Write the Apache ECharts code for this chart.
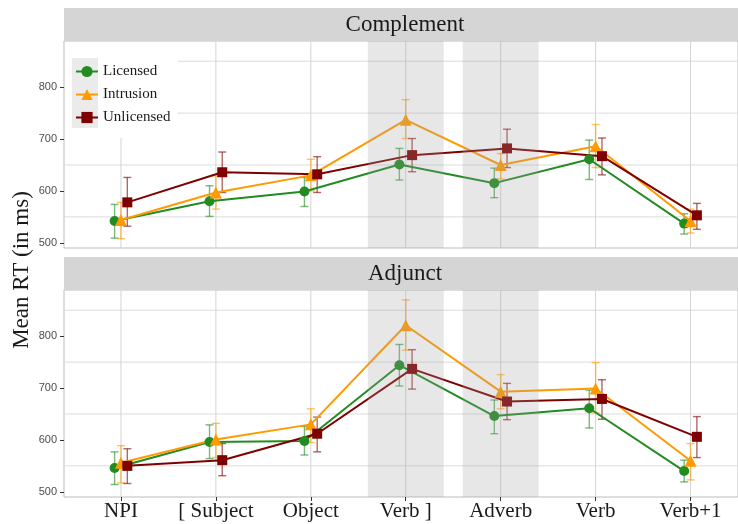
<!DOCTYPE html>
<html><head><meta charset="utf-8">
<script src="https://cdn.jsdelivr.net/npm/echarts@6/dist/echarts.min.js"></script>
<style>html,body{margin:0;padding:0;background:#fff}#c{width:738px;height:524px}</style>
</head><body><div id="c"></div>
<script>
const categories = ['NPI', '[ Subject', 'Object', 'Verb ]', 'Adverb', 'Verb', 'Verb+1'];
const conditions = ['Licensed', 'Intrusion', 'Unlicensed'];
const panels = ['Complement', 'Adjunct'];
const shadedCategories = ['Verb ]', 'Adverb'];
const yTicks = [500, 600, 700, 800];
const yGrid = [550, 650, 750, 850];

// Complement panel
const compLicensed     = [542, 580, 599, 651, 615, 661, 537];
const compLicensedLo   = [509, 551, 570, 621, 587, 622, 517];
const compLicensedHi   = [574, 610, 626, 682, 644, 698, 556];
const compIntrusion    = [544, 597, 630, 737, 650, 686, 542];
const compIntrusionLo  = [508, 565, 600, 701, 623, 645, 519];
const compIntrusionHi  = [578, 629, 661, 776, 672, 728, 565];
const compUnlicensed   = [578, 636, 632, 669, 682, 667, 553];
const compUnlicensedLo = [532, 597, 597, 637, 645, 631, 526];
const compUnlicensedHi = [626, 675, 666, 701, 719, 702, 576];

// Adjunct panel
const adjLicensed     = [546, 596, 598, 744, 646, 661, 540];
const adjLicensedLo   = [514, 564, 571, 704, 612, 623, 519];
const adjLicensedHi   = [577, 629, 626, 784, 677, 696, 561];
const adjIntrusion    = [556, 601, 630, 821, 693, 699, 560];
const adjIntrusionLo  = [517, 566, 595, 773, 660, 652, 523];
const adjIntrusionHi  = [589, 632, 660, 870, 726, 749, 593];
const adjUnlicensed   = [550, 561, 612, 737, 674, 679, 606];
const adjUnlicensedLo = [516, 531, 577, 698, 639, 640, 566];
const adjUnlicensedHi = [583, 593, 644, 774, 709, 716, 645];

const panelData = [
  [[compLicensed, compLicensedLo, compLicensedHi], [compIntrusion, compIntrusionLo, compIntrusionHi], [compUnlicensed, compUnlicensedLo, compUnlicensedHi]],
  [[adjLicensed, adjLicensedLo, adjLicensedHi], [adjIntrusion, adjIntrusionLo, adjIntrusionHi], [adjUnlicensed, adjUnlicensedLo, adjUnlicensedHi]]
];

const colors = ['#228B22', '#FF9A00', '#7F0000'];
const symbols = ['circle', 'triangle', 'rect'];
const symbolSizes = [10, 12, 10];
const dodge = [-0.067, 0, 0.067];
const SERIF = '"Liberation Serif", "DejaVu Serif", serif';
const SANS = '"Liberation Sans", Arial, sans-serif';

const gridTops = [41, 290];
const gridH = 207;

const grids = gridTops.map(t => ({left: 64, right: 0, top: t, height: gridH, show: true, borderColor: '#bdbdbd', borderWidth: 1, backgroundColor: '#fff'}));

const xAxes = gridTops.map((t, i) => ({
  type: 'value', gridIndex: i, min: -0.6, max: 6.5, position: 'bottom',
  axisLine: {show: false, onZero: false}, splitLine: {show: false},
  axisTick: {show: i === 1, customValues: categories.map((c, k) => k), length: 4, lineStyle: {color: '#333'}},
  axisLabel: {show: i === 1, customValues: categories.map((c, k) => k), formatter: v => categories[Math.round(v)] || '',
    fontFamily: SERIF, fontSize: 21, color: '#1a1a1a', margin: 4}
}));

const yAxes = gridTops.map((t, i) => ({
  type: 'value', gridIndex: i, min: 490, max: 889, position: 'left',
  axisLine: {show: false, onZero: false}, splitLine: {show: false},
  axisTick: {show: true, customValues: yTicks, length: 4, lineStyle: {color: '#333'}},
  axisLabel: {customValues: yTicks, fontFamily: SANS, fontSize: 11, color: '#4d4d4d', margin: 7}
}));

const series = [];
panels.forEach((p, gi) => {
  // horizontal grid lines
  series.push({
    type: 'custom', xAxisIndex: gi, yAxisIndex: gi, z: 1, silent: true,
    data: yGrid.map(v => [0, v]),
    renderItem: (params, api) => {
      const cs = params.coordSys;
      const y = api.coord([0, api.value(1)])[1];
      return {type: 'line', shape: {x1: cs.x, y1: y, x2: cs.x + cs.width, y2: y}, style: {stroke: '#dcdcdc', lineWidth: 1}};
    }
  });
  // vertical grid lines
  series.push({
    type: 'custom', xAxisIndex: gi, yAxisIndex: gi, z: 1, silent: true,
    data: categories.map((c, k) => [k, 600]),
    renderItem: (params, api) => {
      const cs = params.coordSys;
      const x = api.coord([api.value(0), 600])[0];
      return {type: 'line', shape: {x1: x, y1: cs.y, x2: x, y2: cs.y + cs.height}, style: {stroke: '#d4d4d4', lineWidth: 1}};
    }
  });
  conditions.forEach((cond, ci) => {
    const [m, lo, hi] = panelData[gi][ci];
    series.push({
      type: 'custom', xAxisIndex: gi, yAxisIndex: gi, z: 5, silent: true,
      data: m.map((v, k) => [k + dodge[ci], lo[k], hi[k]]),
      renderItem: (params, api) => {
        const x = api.value(0);
        const p1 = api.coord([x, api.value(1)]);
        const p2 = api.coord([x, api.value(2)]);
        const w = 4;
        const st = {stroke: colors[ci], lineWidth: 1.4, opacity: 0.6};
        return {type: 'group', children: [
          {type: 'line', shape: {x1: p1[0], y1: p1[1], x2: p2[0], y2: p2[1]}, style: st},
          {type: 'line', shape: {x1: p1[0] - w, y1: p1[1], x2: p1[0] + w, y2: p1[1]}, style: st},
          {type: 'line', shape: {x1: p2[0] - w, y1: p2[1], x2: p2[0] + w, y2: p2[1]}, style: st}
        ]};
      }
    });
    series.push({
      type: 'line', name: cond, xAxisIndex: gi, yAxisIndex: gi, z: 6,
      data: m.map((v, k) => [k + dodge[ci], v]),
      symbol: symbols[ci], symbolSize: symbolSizes[ci], showSymbol: true,
      lineStyle: {color: colors[ci], width: 2},
      itemStyle: {color: colors[ci]}
    });
  });
  // shaded bands on top
  series.push({
    type: 'custom', xAxisIndex: gi, yAxisIndex: gi, z: 8, silent: true,
    data: shadedCategories.map(c => [categories.indexOf(c)]),
    renderItem: (params, api) => {
      const cs = params.coordSys;
      const c = api.value(0);
      const x0 = api.coord([c - 0.4, 600])[0];
      const x1 = api.coord([c + 0.4, 600])[0];
      return {type: 'rect', shape: {x: x0, y: cs.y, width: x1 - x0, height: cs.height}, style: {fill: 'rgba(160,160,160,0.25)'}};
    }
  });
});

const graphic = [];
panels.forEach((p, gi) => {
  graphic.push({type: 'rect', z: 3, shape: {x: 64, y: gridTops[gi] - 33, width: 674, height: 33}, style: {fill: '#d5d5d5'}});
  graphic.push({type: 'text', z: 4, x: 405, y: gridTops[gi] - 16, style: {text: p, font: '23px ' + SERIF, fill: '#1a1a1a', align: 'center', verticalAlign: 'middle'}});
});
graphic.push({type: 'rect', z: 2, shape: {x: 65, y: 42, width: 113, height: 96}, style: {fill: '#fff'}});
graphic.push({type: 'rect', z: 3, shape: {x: 72, y: 58, width: 26, height: 70}, style: {fill: '#ebebeb'}});
graphic.push({type: 'text', z: 4, x: 22, y: 270, rotation: Math.PI / 2, style: {text: 'Mean RT (in ms)', font: '23px ' + SERIF, fill: '#1a1a1a', align: 'center', verticalAlign: 'middle'}});

const chart = echarts.init(document.getElementById('c'));
chart.setOption({
  animation: false,
  backgroundColor: '#fff',
  grid: grids,
  xAxis: xAxes,
  yAxis: yAxes,
  legend: {orient: 'vertical', left: 75, top: 64, padding: 0, itemWidth: 22, itemHeight: 14, itemGap: 8, z: 10,
    data: conditions, textStyle: {fontFamily: SERIF, fontSize: 15, color: '#1a1a1a'}},
  graphic: {elements: graphic},
  series: series
});
</script>
</body></html>
